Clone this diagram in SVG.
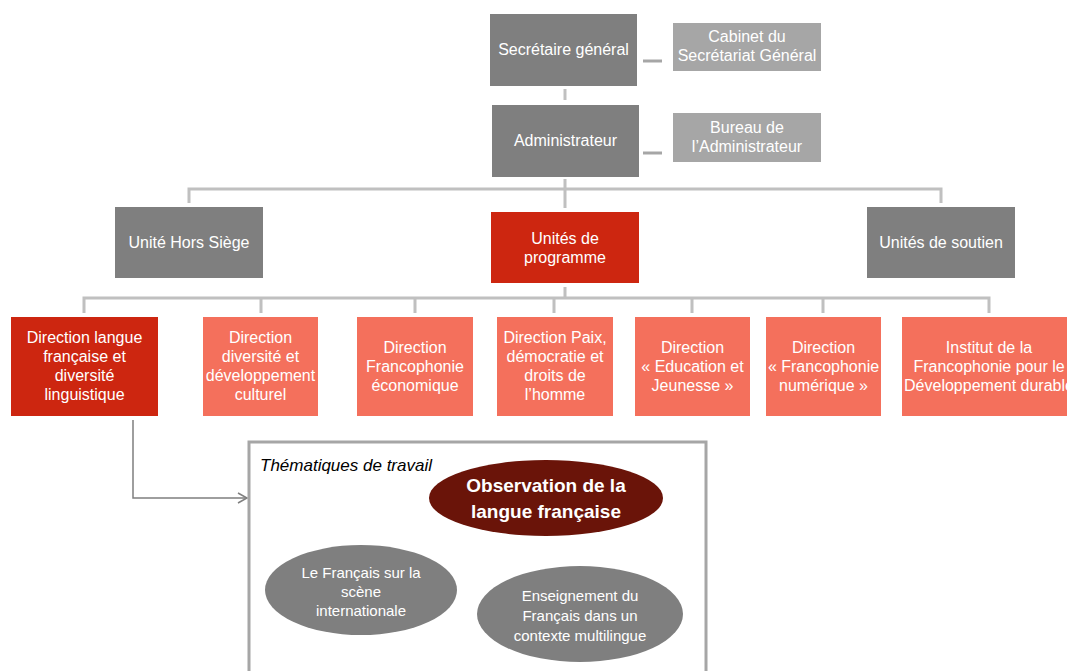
<svg xmlns="http://www.w3.org/2000/svg" width="1067" height="671" viewBox="0 0 1067 671">
<style>
text{font-family:"Liberation Sans",Arial,sans-serif;fill:#fff;text-anchor:middle;font-size:16px}
.dk{fill:#7f7f7f}
.lt{fill:#a6a6a6}
.red{fill:#cd2610}
.sal{fill:#f4705c}
.conn{stroke:#c0c0c0;stroke-width:3;fill:none}
.dash{stroke:#a6a6a6;stroke-width:3;fill:none}
.el{font-size:15px}
</style>
<defs>
<marker id="arr" markerWidth="12" markerHeight="12" refX="10" refY="6" orient="auto" markerUnits="userSpaceOnUse">
<path d="M1,1 L10,6 L1,11" fill="none" stroke="#7f7f7f" stroke-width="1.5"/>
</marker>
</defs>
<g id="connectors">
<path class="conn" d="M565,89 V100"/>
<path class="dash" d="M643,61 H662"/>
<path class="dash" d="M643,153 H662"/>
<path class="conn" d="M565,179 V189 M189,203 V189 H941 V203 M565,189 V208"/>
<path class="conn" d="M565,287 V298 M84,313 V298 H989 V313 M261,298 V313 M415,298 V313 M554,298 V313 M692,298 V313 M823,298 V313"/>
<path d="M133,420 V498 H247" fill="none" stroke="#7f7f7f" stroke-width="1.5" marker-end="url(#arr)"/>
</g>
<g id="sg"><rect class="dk" x="490" y="14" width="147" height="72"/><text x="563.5" y="55">Secrétaire général</text></g>
<g id="cabinet"><rect class="lt" x="673" y="23" width="148" height="48"/><text x="747" y="42">Cabinet du</text><text x="747" y="61">Secrétariat Général</text></g>
<g id="admin"><rect class="dk" x="492" y="105" width="147" height="72"/><text x="565.5" y="146">Administrateur</text></g>
<g id="bureau"><rect class="lt" x="673" y="113" width="148" height="49"/><text x="747" y="133">Bureau de</text><text x="747" y="152">l’Administrateur</text></g>
<g id="hors"><rect class="dk" x="115" y="207" width="148" height="71"/><text x="189" y="248">Unité Hors Siège</text></g>
<g id="prog"><rect class="red" x="491" y="212" width="148" height="71"/><text x="565" y="244">Unités de</text><text x="565" y="263">programme</text></g>
<g id="soutien"><rect class="dk" x="867" y="207" width="148" height="71"/><text x="941" y="248">Unités de soutien</text></g>
<g id="d1"><rect class="red" x="11" y="317" width="147" height="99"/><text x="84.5" y="343">Direction langue</text><text x="84.5" y="362">française et</text><text x="84.5" y="381">diversité</text><text x="84.5" y="400">linguistique</text></g>
<g id="d2"><rect class="sal" x="203" y="317" width="115" height="99"/><text x="260.5" y="343">Direction</text><text x="260.5" y="362">diversité et</text><text x="260.5" y="381">développement</text><text x="260.5" y="400">culturel</text></g>
<g id="d3"><rect class="sal" x="357" y="317" width="116" height="99"/><text x="415" y="353">Direction</text><text x="415" y="372">Francophonie</text><text x="415" y="391">économique</text></g>
<g id="d4"><rect class="sal" x="497" y="317" width="116" height="99"/><text x="555" y="343">Direction Paix,</text><text x="555" y="362">démocratie et</text><text x="555" y="381">droits de</text><text x="555" y="400">l’homme</text></g>
<g id="d5"><rect class="sal" x="635" y="317" width="115" height="99"/><text x="692.5" y="353">Direction</text><text x="692.5" y="372">« Education et</text><text x="692.5" y="391">Jeunesse »</text></g>
<g id="d6"><rect class="sal" x="766" y="317" width="115" height="99"/><text x="823.5" y="353">Direction</text><text x="823.5" y="372">« Francophonie</text><text x="823.5" y="391">numérique »</text></g>
<g id="d7"><rect class="sal" x="902" y="317" width="170" height="99"/><text x="989" y="353">Institut de la</text><text x="989" y="372">Francophonie pour le</text><text x="989" y="391">Développement durable</text></g>
<g id="themes">
<rect x="249" y="442" width="457" height="240" fill="#fff" stroke="#a6a6a6" stroke-width="3"/>
<text x="260" y="471" style="fill:#000;text-anchor:start;font-style:italic;font-size:17px">Thématiques de travail</text>
</g>
<g id="obs"><ellipse cx="546" cy="498" rx="117" ry="38" fill="#6a1409"/><text x="546" y="492" style="font-weight:bold;font-size:19px">Observation de la</text><text x="546" y="518" style="font-weight:bold;font-size:19px">langue française</text></g>
<g id="scene"><ellipse cx="361" cy="590" rx="96" ry="45" fill="#7f7f7f"/><text class="el" x="361" y="578">Le Français sur la</text><text class="el" x="361" y="597">scène</text><text class="el" x="361" y="616">internationale</text></g>
<g id="ens"><ellipse cx="580" cy="614" rx="103" ry="48" fill="#7f7f7f"/><text class="el" x="580" y="601">Enseignement du</text><text class="el" x="580" y="621">Français dans un</text><text class="el" x="580" y="641">contexte multilingue</text></g>
</svg>
